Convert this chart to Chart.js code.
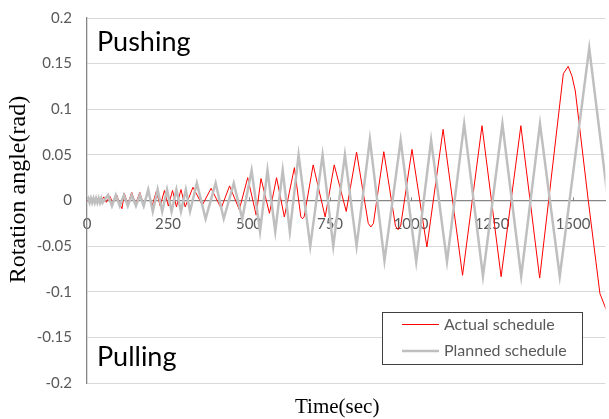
<!DOCTYPE html>
<html>
<head>
<meta charset="utf-8">
<script src="https://cdn.jsdelivr.net/npm/chart.js@4.4.0/dist/chart.umd.min.js"></script>
<style>
html,body{margin:0;padding:0;background:#ffffff;}
#wrap{width:609px;height:419px;position:relative;}
canvas{display:block;}
</style>
</head>
<body>
<div id="wrap"><canvas id="c" width="609" height="419"></canvas></div>
<script>
// ---- data (time in sec, rotation angle in rad) ----
const seriesNames = ['Actual schedule', 'Planned schedule'];
const regionLabels = ['Pushing', 'Pulling'];
const xTitle = 'Time(sec)';
const yTitle = 'Rotation angle(rad)';

const xTickValues = [0, 250, 500, 750, 1000, 1250, 1500];
const yTickValues = [-0.2, -0.15, -0.1, -0.05, 0, 0.05, 0.1, 0.15, 0.2];

const plannedTime = [0,4,8,12,16,20,24,28,32,36,40,44,48,53,
  65,77,89,101,114,126,138,151,163,175,
  189,203,218,232,247,261,276,290,305,318,
  339,366,397,422,453,479,
  508,534,557,581,604,626,
  653,689,727,760,796,832,
  873,918,968,1016,1062,1111,
  1164,1222,1282,1340,1398,1459,
  1550,1610];
const plannedAngle = [0,0.0025,-0.0025,0.0025,-0.0025,0.0025,-0.0025,0.0025,-0.0025,0.0025,-0.0025,0.0025,-0.0025,0,
  0.006,-0.006,0.006,-0.006,0.006,-0.006,0.006,-0.006,0.006,-0.006,
  0.012,-0.012,0.012,-0.012,0.012,-0.012,0.012,-0.012,0.012,-0.012,
  0.019,-0.02,0.019,-0.02,0.019,-0.02,
  0.033,-0.034,0.033,-0.034,0.033,-0.034,
  0.05,-0.05,0.05,-0.05,0.05,-0.05,
  0.067,-0.066,0.066,-0.067,0.066,-0.067,
  0.084,-0.083,0.084,-0.083,0.084,-0.083,
  0.167,-0.006];

const actualTime = [0,45,52,60,70,80,92,100,108,115,126,138,150,163,175,
  189,201,214,226,239,251,264,276,290,303,
  327,356,383,414,440,470,
  496,522,537,563,585,609,
  640,660,665,670,698,735,763,800,
  832,868,876,884,916,952,960,968,1003,1049,
  1099,1159,1219,1278,1339,1397,
  1470,1485,1497,1507,1547,1583,1605];
const actualAngle = [0,0,0.004,-0.002,0.005,-0.003,0.006,-0.003,-0.009,0.008,-0.004,0.009,-0.004,0.009,-0.005,
  0.010,-0.006,0.010,-0.006,0.011,-0.006,0.011,-0.007,0.012,-0.007,
  0.0145,-0.005,0.0134,-0.0086,0.016,-0.010,
  0.025,-0.016,0.024,-0.014,0.025,-0.018,
  0.036,-0.018,-0.020,-0.018,0.039,-0.018,0.039,-0.012,
  0.053,-0.025,-0.029,-0.025,0.0535,-0.028,-0.032,-0.028,0.056,-0.051,
  0.078,-0.082,0.082,-0.0835,0.082,-0.085,
  0.139,0.147,0.136,0.12,0.0,-0.102,-0.122];

// ---- styles ----
const RED = '#ff0000';
const GRAY = '#bfbfbf';
const TICK_COLOR = '#595959';
const AXIS_COLOR = '#868686';
const GRID_COLOR = '#d9d9d9';
const SANS = 'Lato';
const SERIF = '"Liberation Serif"';

function pts(xs, ys) { return xs.map((x, i) => ({x: x, y: ys[i]})); }

const overlay = {
  id: 'overlay',
  afterDatasetsDraw(chart) {
    const ctx = chart.ctx;
    const a = chart.chartArea;
    ctx.save();
    // region labels
    ctx.fillStyle = '#000000';
    ctx.font = '27px ' + SANS;
    ctx.textAlign = 'left';
    ctx.textBaseline = 'alphabetic';
    ctx.fillText(regionLabels[0], a.left + 10, a.top + 33);
    ctx.fillText(regionLabels[1], a.left + 10, a.bottom - 17);
    // legend box
    const lx = 382, ly = 312, lw = 200, lh = 52;
    ctx.fillStyle = '#ffffff';
    ctx.fillRect(lx, ly, lw, lh);
    ctx.strokeStyle = '#404040';
    ctx.lineWidth = 1;
    ctx.strokeRect(lx + 0.5, ly + 0.5, lw, lh);
    const colors = [RED, GRAY];
    const widths = [1, 2.5];
    const rows = [ly + 12.5, ly + 39];
    ctx.font = '16px ' + SANS;
    ctx.textBaseline = 'middle';
    for (let i = 0; i < seriesNames.length; i++) {
      ctx.strokeStyle = colors[i];
      ctx.lineWidth = widths[i];
      ctx.beginPath();
      ctx.moveTo(lx + 20, rows[i]);
      ctx.lineTo(lx + 57, rows[i]);
      ctx.stroke();
      ctx.fillStyle = TICK_COLOR;
      ctx.fillText(seriesNames[i], lx + 62, rows[i]);
    }
    ctx.restore();
  },
  afterDraw(chart) {
    const ctx = chart.ctx;
    const a = chart.chartArea;
    ctx.save();
    ctx.fillStyle = '#000000';
    ctx.textAlign = 'center';
    ctx.textBaseline = 'middle';
    ctx.font = '21px ' + SERIF;
    ctx.fillText(xTitle, (a.left + a.right) / 2 - 9, 407);
    ctx.font = '24px ' + SERIF;
    ctx.translate(18.5, (a.top + a.bottom) / 2 - 11);
    ctx.rotate(-Math.PI / 2);
    ctx.fillText(yTitle, 0, 0);
    ctx.restore();
  }
};

function build() {
  new Chart(document.getElementById('c'), {
    type: 'scatter',
    data: {
      datasets: [
        {
          label: seriesNames[0],
          data: pts(actualTime, actualAngle),
          showLine: true,
          borderColor: RED,
          backgroundColor: RED,
          borderWidth: 1,
          pointRadius: 0,
          tension: 0,
          order: 1
        },
        {
          label: seriesNames[1],
          data: pts(plannedTime, plannedAngle),
          showLine: true,
          borderColor: GRAY,
          backgroundColor: GRAY,
          borderWidth: 2.5,
          pointRadius: 0,
          tension: 0,
          order: 0
        }
      ]
    },
    options: {
      responsive: false,
      animation: false,
      devicePixelRatio: 1,
      layout: {padding: {top: 18, right: 1, bottom: 36, left: 0}},
      plugins: {legend: {display: false}, tooltip: {enabled: false}, title: {display: false}},
      scales: {
        x: {
          type: 'linear',
          min: 0,
          max: 1600,
          position: {y: 0},
          afterBuildTicks: s => { s.ticks = xTickValues.map(v => ({value: v})); },
          ticks: {
            color: TICK_COLOR,
            font: {family: SANS, size: 15},
            padding: 18.5,
            maxRotation: 0,
            autoSkip: false,
            callback: v => String(v)
          },
          grid: {drawOnChartArea: false, drawTicks: true, tickLength: -4, color: AXIS_COLOR, lineWidth: 1},
          border: {display: true, color: AXIS_COLOR, width: 1.3}
        },
        y: {
          type: 'linear',
          min: -0.2,
          max: 0.2,
          position: 'left',
          afterBuildTicks: s => { s.ticks = yTickValues.map(v => ({value: v})); },
          afterFit: s => { s.width = 87; },
          ticks: {
            color: TICK_COLOR,
            font: {family: SANS, size: 15},
            padding: 0,
            autoSkip: false,
            callback: v => String(Math.round(v * 100) / 100)
          },
          grid: {color: GRID_COLOR, lineWidth: 1, drawTicks: true, tickLength: 15, tickColor: 'rgba(0,0,0,0)'},
          border: {display: true, color: AXIS_COLOR, width: 1.3}
        }
      }
    },
    plugins: [overlay]
  });
}

const fontLoads = ['15px Lato', '27px Lato', '22px "Liberation Serif"'].map(f => document.fonts ? document.fonts.load(f) : Promise.resolve());
Promise.all(fontLoads).then(build, build);
</script>
</body>
</html>
